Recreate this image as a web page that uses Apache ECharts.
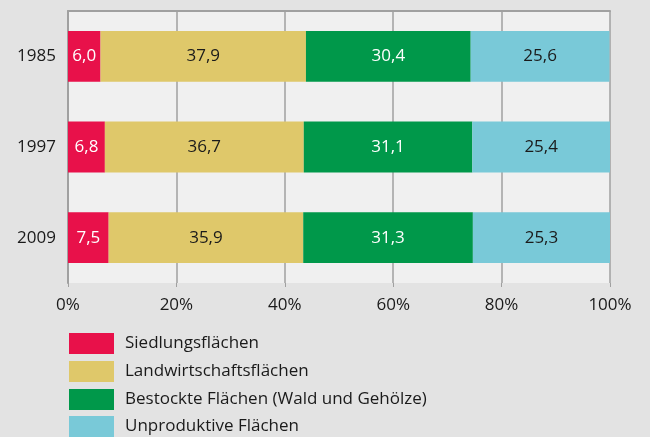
<!DOCTYPE html>
<html>
<head>
<meta charset="utf-8">
<script src="https://cdn.jsdelivr.net/npm/echarts@6/dist/echarts.min.js"></script>
<style>
  html, body { margin: 0; padding: 0; background: #e3e3e3; }
  #chart { width: 650px; height: 437px; }
</style>
</head>
<body>
<div id="chart"></div>
<script>
// Jahre
const years = ['1985', '1997', '2009'];
// Anteile in %
const siedlung = [6.0, 6.8, 7.5];
const landwirtschaft = [37.9, 36.7, 35.9];
const bestockt = [30.4, 31.1, 31.3];
const unproduktiv = [25.6, 25.4, 25.3];
const seriesNames = ['Siedlungsflächen', 'Landwirtschaftsflächen', 'Bestockte Flächen (Wald und Gehölze)', 'Unproduktive Flächen'];
const colors = ['#e8114a', '#dfc86a', '#00984a', '#79c9d8'];
const labelColors = ['#ffffff', '#1a1a1a', '#ffffff', '#1a1a1a'];

const font = '"Open Sans", sans-serif';
const chart = echarts.init(document.getElementById('chart'));

function makeSeries(name, data, i) {
  return {
    name: name,
    type: 'bar',
    stack: 'total',
    barCategoryGap: '44%',
    data: data,
    itemStyle: { color: colors[i] },
    label: {
      show: true,
      position: 'inside',
      color: labelColors[i],
      fontFamily: font,
      fontSize: 17,
      formatter: p => p.value.toFixed(1).replace('.', ',')
    }
  };
}

// eine Legende pro Zeile, damit nichts umbricht
const legendTops = [333, 361, 389, 416];
const legends = seriesNames.map((name, i) => ({
  orient: 'vertical',
  left: 69, top: legendTops[i],
  padding: 0,
  itemWidth: 45, itemHeight: 21,
  icon: 'rect',
  data: [name],
  textStyle: { fontFamily: font, fontSize: 17, lineHeight: 21, color: '#1a1a1a', padding: [0, 0, 0, 6] }
}));

chart.setOption({
  backgroundColor: '#e3e3e3',
  animation: false,
  color: colors,
  grid: {
    left: 68, right: 40, top: 11, bottom: 154,
    show: true, backgroundColor: '#f0f0f0', borderWidth: 0
  },
  legend: legends,
  xAxis: [{
    type: 'value',
    min: 0, max: 100, interval: 20,
    axisLine: { show: false },
    axisTick: { show: true, length: 4, lineStyle: { color: '#a0a0a0' } },
    splitLine: { show: true, lineStyle: { color: '#a0a0a0', width: 1.5 } },
    axisLabel: { fontFamily: font, fontSize: 17, color: '#1a1a1a', margin: 14, formatter: '{value}%' }
  }, {
    type: 'value',
    position: 'top',
    min: 0, max: 100,
    axisLine: { show: true, lineStyle: { color: '#a0a0a0', width: 2 } },
    axisTick: { show: false },
    axisLabel: { show: false },
    splitLine: { show: false }
  }],
  yAxis: {
    type: 'category',
    inverse: true,
    data: years,
    axisLine: { show: true, lineStyle: { color: '#a0a0a0', width: 2 } },
    axisTick: { show: false },
    axisLabel: { fontFamily: font, fontSize: 17, color: '#1a1a1a', margin: 12 }
  },
  series: [
    makeSeries(seriesNames[0], siedlung, 0),
    makeSeries(seriesNames[1], landwirtschaft, 1),
    makeSeries(seriesNames[2], bestockt, 2),
    makeSeries(seriesNames[3], unproduktiv, 3)
  ]
});
</script>
</body>
</html>
